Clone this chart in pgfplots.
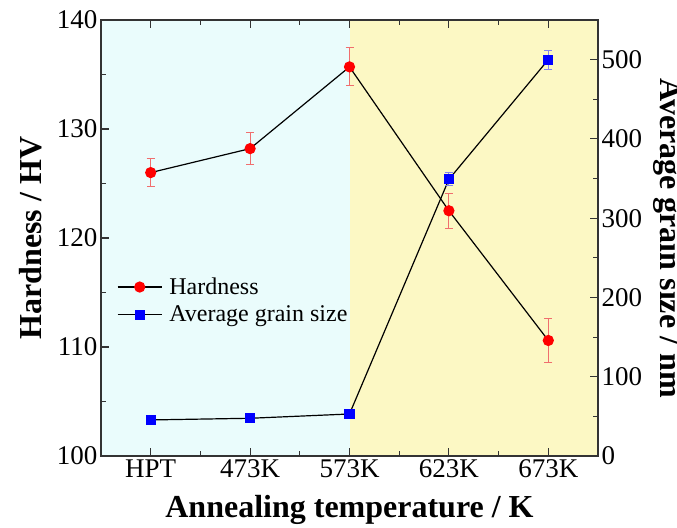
\documentclass[border=0pt]{standalone}
\usepackage{pgfplots}
\pgfplotsset{compat=1.18}
\usepackage{fontspec}
\setmainfont{Liberation Serif}
\usetikzlibrary{calc}

\definecolor{cyanbg}{RGB}{234,252,252}
\definecolor{yellowbg}{RGB}{252,248,196}
\definecolor{errred}{RGB}{240,110,110}
\definecolor{errblue}{RGB}{130,130,240}

\pgfplotsset{
  chartbase/.style={
    scale only axis, width=497pt, height=436pt,
    xmin=-0.5, xmax=4.5,
    axis line style={black!80, line width=1.2pt},
    tick style={black!80, line width=1.1pt},
    tick align=inside,
    major tick length=8pt, minor tick length=5pt,
    ticklabel style={font=\fontsize{27}{30}\selectfont},
    /pgf/number format/assume math mode=true,
    label style={font=\fontsize{32}{36}\selectfont\bfseries},
  },
}

\begin{document}
\begin{tikzpicture}
\begin{axis}[
    chartbase, name=ax,
    ymin=100, ymax=140,
    ytick={100,110,120,130,140},
    minor y tick num=1,
    ytick pos=left,
    xtick={0,1,2,3,4},
    xticklabels={HPT,473K,573K,623K,673K},
    minor x tick num=1,
    xtick pos=both,
    axis on top,
    xlabel={Annealing temperature / K},
    ylabel={Hardness / HV},
    xlabel style={at={(axis description cs:0.5,-0.142)}, anchor=base},
    ylabel style={at={(axis description cs:-0.141,0.5)}, anchor=center},
]
% shaded regions
\addplot[fill=cyanbg, draw=none, forget plot] coordinates {(-0.5,100) (2,100) (2,140) (-0.5,140)} -- cycle;
\addplot[fill=yellowbg, draw=none, forget plot] coordinates {(2,100) (4.5,100) (4.5,140) (2,140)} -- cycle;

% hardness
\addplot[black, line width=1.2pt, mark=*, mark size=5pt,
    mark options={fill=red, draw=red},
    error bars/.cd, y dir=both, y explicit, error mark=|,
    error bar style={errred, line width=1pt},
    error mark options={errred, line width=1pt, mark size=4pt}]
coordinates {
    (0,126.0) +- (0,1.3)
    (1,128.2) +- (0,1.5)
    (2,135.7) +- (0,1.75)
    (3,122.5) +- (0,1.6)
    (4,110.6) +- (0,2.0)
};
\end{axis}

\begin{axis}[
    chartbase,
    ymin=0, ymax=550,
    ytick={0,100,200,300,400,500},
    minor ytick={50,150,250,350,450},
    hide x axis,
    axis y line*=right,
    ylabel={Average grain size / nm},
    ylabel style={at={(axis description cs:1.141,0.5)}, anchor=center, rotate=180},
    legend style={draw=none, fill=none,
        font=\fontsize{24}{28}\selectfont,
        at={(axis description cs:0.026,0.418)}, anchor=north west,
        row sep=6pt,
        /tikz/every odd column/.append style={column sep=5pt}},
    legend cell align=left,
    legend image code/.code={\draw[mark repeat=2,mark phase=2,#1] plot coordinates {(0pt,0pt) (22pt,0pt) (44pt,0pt)};},
]
\addlegendimage{black, line width=1.2pt, mark=*, mark size=5pt, mark options={fill=red, draw=red}}
\addlegendentry{Hardness}

\addplot[black, line width=1.2pt, mark=square*, mark size=4.5pt,
    mark options={fill=blue, draw=blue},
    error bars/.cd, y dir=both, y explicit, error mark=|,
    error bar style={errblue, line width=1pt},
    error mark options={errblue, line width=1pt, mark size=4pt}]
coordinates {
    (0,45.5) +- (0,3)
    (1,47.6) +- (0,3)
    (2,53) +- (0,3)
    (3,349) +- (0,8)
    (4,500) +- (0,12)
};
\addlegendentry{Average grain size}
\end{axis}

\pgfresetboundingbox
\useasboundingbox ($(ax.south west)+(-101pt,-71pt)$) rectangle ($(ax.north east)+(79pt,20pt)$);
\end{tikzpicture}
\end{document}
